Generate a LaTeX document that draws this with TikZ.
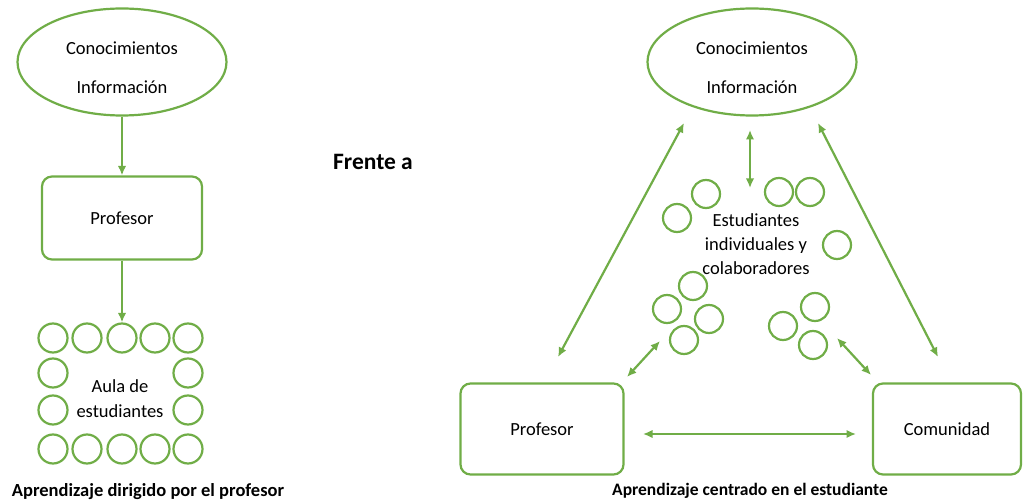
\documentclass[tikz,border=0pt]{standalone}
\usepackage{fontspec}
\setmainfont{Carlito}
\usetikzlibrary{shapes.geometric,arrows.meta}
\definecolor{grn}{RGB}{112,173,71}
\tikzset{
  gline/.style={draw=grn,line width=2.2pt},
  oval/.style={gline,ellipse,minimum width=209pt,minimum height=107pt,inner sep=0pt},
  rbox/.style={gline,rectangle,rounded corners=10pt,inner sep=0pt,font=\fontsize{18.5}{22}\selectfont},
  stud/.style={gline,circle,minimum size=29pt,inner sep=0pt},
  studs/.style={gline,circle,minimum size=28pt,inner sep=0pt},
  lbl/.style={align=center,inner sep=0pt,font=\fontsize{18.5}{25}\selectfont},
  olbl/.style={align=center,inner sep=0pt,font=\fontsize{18.5}{39}\selectfont},
  ttl/.style={inner sep=0pt,font=\fontsize{18.5}{22}\selectfont\bfseries},
  arr/.style={draw=grn,line width=2.2pt,-{Latex[length=9.5pt,width=8.5pt]}},
  darr/.style={draw=grn,line width=2.2pt,{Latex[length=9.5pt,width=8.5pt]}-{Latex[length=9.5pt,width=8.5pt]}}
}
\begin{document}
\begin{tikzpicture}[x=1pt,y=-1pt]
\useasboundingbox (0,0) rectangle (1023,502);
% ---------- left ----------
\node[oval] (kL) at (122,62) {};
\node[olbl] (kLt) at (122,68) {Conocimientos\\Información};
\node[rbox,minimum width=160pt,minimum height=83pt] (pL) at (122,218) {Profesor};
\foreach \x [count=\i] in {53,87,122,155,188}{
  \node[stud] (t\i) at (\x,338) {};
  \node[stud] (b\i) at (\x,449) {};
}
\node[stud] (m1) at (53,373) {};
\node[stud] (m2) at (53,410) {};
\node[stud] (m3) at (188,373) {};
\node[stud] (m4) at (188,410) {};
\node[lbl] (aula) at (120,399) {Aula de\\estudiantes};
\draw[arr] (kL.south) -- (pL.north);
\draw[arr] (pL.south) -- (t3.north);
\node[ttl] (tL) at (148,492) {Aprendizaje dirigido por el profesor};
% ---------- middle ----------
\node[inner sep=0pt,font=\fontsize{23.5}{28}\selectfont\bfseries] (fr) at (373,162) {Frente a};
% ---------- right ----------
\node[oval] (kR) at (752,62) {};
\node[olbl] (kRt) at (752,68) {Conocimientos\\Información};
\node[rbox,minimum width=163pt,minimum height=91pt] (pR) at (542,429) {Profesor};
\node[rbox,minimum width=148pt,minimum height=91pt] (cR) at (947,429) {Comunidad};
\node[lbl,font=\fontsize{18.5}{24}\selectfont] (est) at (756,244) {Estudiantes\\individuales y\\colaboradores};
\node[studs] (s1) at (706,194) {};
\node[studs] (s2) at (677,218) {};
\node[studs] (s3) at (779,192) {};
\node[studs] (s4) at (810,192) {};
\node[studs] (s5) at (837,245) {};
\node[studs] (s6) at (693,286) {};
\node[studs] (s7) at (667,309) {};
\node[studs] (s8) at (709,319) {};
\node[studs] (s9) at (684,340) {};
\node[studs] (s10) at (815,307) {};
\node[studs] (s11) at (783,326) {};
\node[studs] (s12) at (813,345) {};
\coordinate (a1) at (684,123);
\coordinate (a2) at (558,357);
\coordinate (b1) at (818,123);
\coordinate (b2) at (938,357);
\coordinate (c1) at (750,130);
\coordinate (c2) at (750,188);
\coordinate (d1) at (643,434);
\coordinate (d2) at (856,434);
\coordinate (e1) at (660,341);
\coordinate (e2) at (627,377);
\coordinate (f1) at (837,338);
\coordinate (f2) at (871,375);
\draw[darr] (a1) -- (a2);
\draw[darr] (b1) -- (b2);
\draw[darr] (c1) -- (c2);
\draw[darr] (d1) -- (d2);
\draw[darr] (e1) -- (e2);
\draw[darr] (f1) -- (f2);
\node[ttl,font=\fontsize{17.5}{21}\selectfont\bfseries] (tR) at (750,491) {Aprendizaje centrado en el estudiante};
\end{tikzpicture}
\end{document}
